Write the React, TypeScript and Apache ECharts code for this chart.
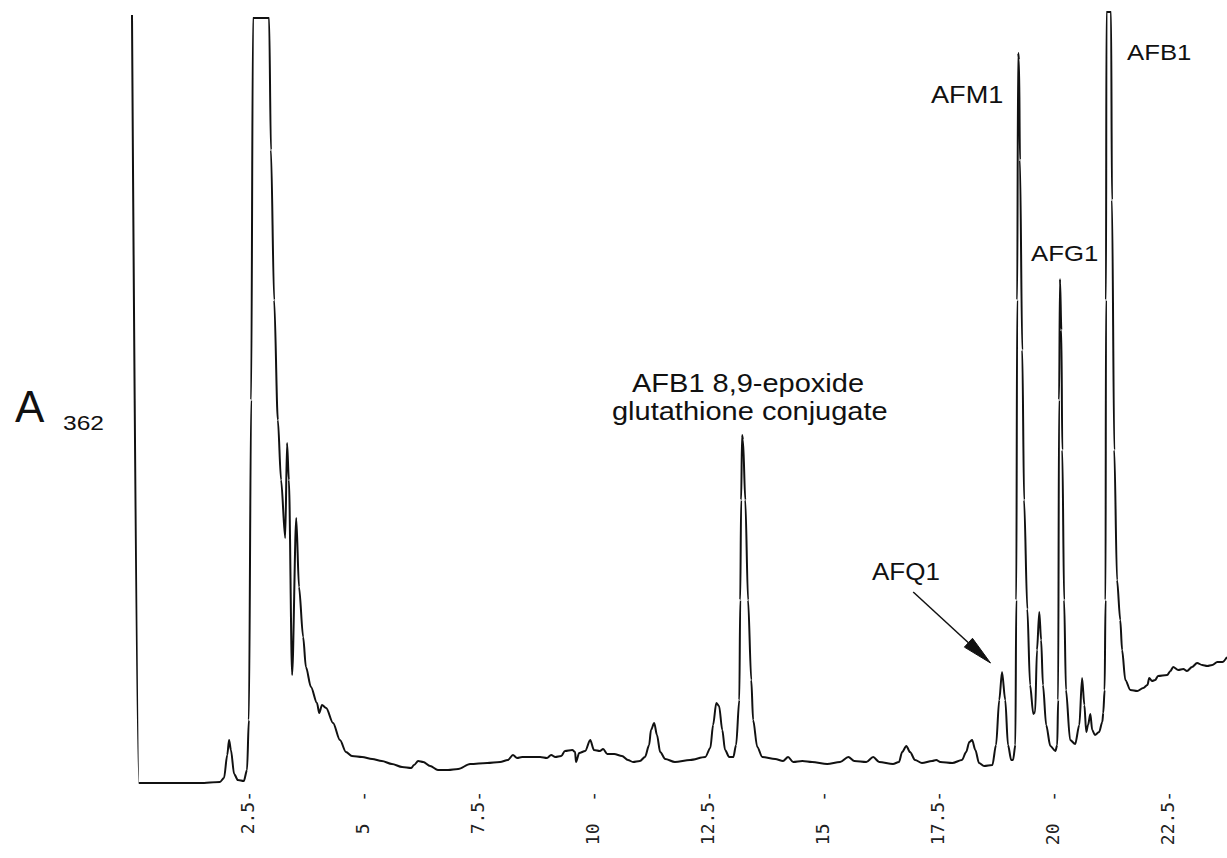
import React, { useEffect, useRef } from "react";
import * as echarts from "echarts";

// Retention time (min)
const retentionTime = [
  0.0, 0.15, 0.61, 1.48, 1.91, 2.0, 2.07, 2.11, 2.15, 2.22, 2.3, 2.43, 2.5, 2.54, 2.59, 2.63, 2.98, 3.02, 3.09, 3.17,
  3.24, 3.33, 3.37, 3.41, 3.48, 3.57, 3.63, 3.72, 3.78, 3.89, 4.02, 4.07, 4.13, 4.22, 4.37, 4.52, 4.65, 4.78, 5.0, 5.22,
  5.43, 5.65, 5.87, 6.07, 6.13, 6.22, 6.33, 6.48, 6.65, 6.87, 7.09, 7.35, 7.72, 8.0, 8.17, 8.28, 8.37, 8.48, 8.87, 9.02,
  9.11, 9.2, 9.33, 9.41, 9.57, 9.63, 9.65, 9.72, 9.85, 9.96, 10.04, 10.17, 10.24, 10.33, 10.48, 10.65, 10.78, 10.89, 11.04, 11.15,
  11.24, 11.28, 11.35, 11.41, 11.48, 11.59, 11.8, 12.13, 12.46, 12.57, 12.63, 12.7, 12.76, 12.83, 12.89, 12.98, 13.07, 13.13, 13.2, 13.22,
  13.24, 13.26, 13.28, 13.33, 13.39, 13.46, 13.5, 13.59, 13.7, 13.98, 14.15, 14.26, 14.37, 14.57, 14.78, 15.11, 15.39, 15.57, 15.7, 15.96,
  16.11, 16.24, 16.54, 16.67, 16.74, 16.83, 16.91, 17.02, 17.17, 17.39, 17.48, 17.57, 17.83, 18.04, 18.13, 18.2, 18.26, 18.33, 18.41, 18.52,
  18.7, 18.78, 18.85, 18.91, 18.98, 19.04, 19.11, 19.15, 19.2, 19.22, 19.24, 19.26, 19.28, 19.3, 19.35, 19.39, 19.46, 19.52, 19.59, 19.63,
  19.67, 19.72, 19.76, 19.8, 19.87, 19.96, 20.07, 20.11, 20.13, 20.15, 20.17, 20.2, 20.22, 20.26, 20.3, 20.39, 20.5, 20.59, 20.65, 20.7,
  20.74, 20.78, 20.83, 20.87, 20.93, 21.02, 21.09, 21.11, 21.14, 21.16, 21.17, 21.18, 21.28, 21.3, 21.35, 21.41, 21.48, 21.52, 21.59, 21.7,
  21.85, 21.98, 22.07, 22.11, 22.17, 22.24, 22.3, 22.5, 22.57, 22.63, 22.74, 22.85, 22.93, 23.04, 23.15, 23.26, 23.37, 23.48, 23.59, 23.7,
  23.8,
];

// Absorbance at 362 nm (relative units)
const absorbance362 = [
  768, 0, 0, 0, 1, 5, 28, 43, 33, 9, 3, 2, 13, 63, 383, 765, 765, 633, 483, 363,
  303, 245, 340, 303, 108, 265, 196, 146, 116, 96, 80, 70, 78, 75, 60, 43, 31, 27, 26, 24,
  22, 19, 16, 15, 18, 22, 21, 17, 13, 13, 14, 19, 20, 21, 23, 28, 25, 26, 26, 25,
  28, 26, 27, 32, 33, 31, 21, 30, 32, 43, 33, 32, 34, 29, 29, 27, 23, 21, 22, 26,
  38, 53, 60, 48, 31, 24, 21, 23, 26, 35, 58, 80, 77, 53, 33, 26, 26, 38, 83, 183,
  283, 348, 343, 283, 183, 103, 63, 36, 26, 24, 22, 26, 21, 22, 21, 19, 21, 26, 22, 21,
  26, 21, 19, 21, 31, 37, 31, 23, 20, 22, 23, 21, 20, 23, 31, 41, 43, 33, 20, 17,
  18, 38, 83, 111, 83, 38, 23, 23, 38, 183, 483, 730, 723, 623, 433, 283, 174, 98, 69, 71,
  133, 171, 143, 98, 58, 37, 32, 38, 83, 383, 504, 453, 333, 183, 93, 43, 39, 58, 105, 78,
  51, 58, 69, 53, 48, 51, 61, 70, 93, 183, 483, 771, 771, 583, 333, 203, 163, 133, 103, 93,
  92, 95, 98, 105, 102, 103, 107, 108, 112, 116, 113, 114, 112, 116, 120, 118, 117, 118, 121, 121,
  126,
];

// Tick labels as printed by the integrator (fixed width, tick dash at the end)
const tickLabels: Record<string, string> = {
  "2.5": "2.5-",
  "5": "5  -",
  "7.5": "7.5-",
  "10": "10  -",
  "12.5": "12.5-",
  "15": "15  -",
  "17.5": "17.5-",
  "20": "20  -",
  "22.5": "22.5-",
};

// Arrow for AFQ1: from [time, absorbance] to [time, absorbance]
const afq1ArrowFrom = [16.98, 191];
const afq1ArrowTo = [18.66, 120];

export default function App() {
  const ref = useRef<HTMLDivElement>(null);

  useEffect(() => {
    if (!ref.current) return;
    const chart = echarts.init(ref.current, undefined, { renderer: "svg" });
    const data = retentionTime.map((t, i) => [t, absorbance362[i]]);
    const sans = "'Liberation Sans', Arial, Helvetica, sans-serif";

    const textEl = (text: string, x: number, y: number, size: number, sx: number) => ({
      type: "text",
      x,
      y,
      scaleX: sx,
      style: {
        text,
        fill: "#111",
        font: `${size}px ${sans}`,
        textAlign: "left",
        textVerticalAlign: "middle",
      },
    });

    const labels = [
      textEl("A", 15, 406, 44, 1.0),
      textEl("362", 63, 423, 21, 1.17),
      textEl("AFB1 8,9-epoxide", 632, 383, 25, 1.16),
      textEl("glutathione conjugate", 612, 411, 25, 1.16),
      textEl("AFQ1", 872, 572, 23, 1.13),
      textEl("AFM1", 931, 95, 23, 1.18),
      textEl("AFG1", 1031, 253, 23, 1.12),
      textEl("AFB1", 1127, 52, 23, 1.12),
    ];

    chart.setOption({
      animation: false,
      backgroundColor: "#ffffff",
      grid: { left: 132, right: 0, top: 10, bottom: 75, containLabel: false },
      xAxis: {
        type: "value",
        min: 0,
        max: 23.8,
        interval: 2.5,
        axisLine: { show: false },
        axisTick: { show: false },
        splitLine: { show: false },
        axisLabel: {
          rotate: 90,
          margin: 8,
          color: "#222",
          fontFamily: "'DejaVu Sans Mono', 'Liberation Mono', monospace",
          fontSize: 18,
          showMaxLabel: false,
          formatter: (v: number) => tickLabels[String(v)] ?? "",
        },
      },
      yAxis: {
        type: "value",
        min: 0,
        max: 773,
        show: false,
      },
      series: [
        {
          type: "line",
          data,
          showSymbol: false,
          symbol: "none",
          smooth: 0.3,
          smoothMonotone: "x",
          lineStyle: { color: "#111", width: 2 },
          clip: true,
        },
      ],
      graphic: labels,
    });

    // Arrow annotation, positioned through the chart's own coordinate system
    const p0 = chart.convertToPixel({ gridIndex: 0 }, afq1ArrowFrom) as number[];
    const p1 = chart.convertToPixel({ gridIndex: 0 }, afq1ArrowTo) as number[];
    const dx = p1[0] - p0[0];
    const dy = p1[1] - p0[1];
    const len = Math.sqrt(dx * dx + dy * dy);
    const ux = dx / len;
    const uy = dy / len;
    const headLen = 30;
    const headHalf = 6;
    const bx = p1[0] - ux * headLen;
    const by = p1[1] - uy * headLen;
    chart.setOption(
      {
        graphic: [
          ...labels,
          {
            type: "line",
            shape: { x1: p0[0], y1: p0[1], x2: bx, y2: by },
            style: { stroke: "#111", lineWidth: 1.5 },
          },
          {
            type: "polygon",
            shape: {
              points: [
                [p1[0], p1[1]],
                [bx - uy * headHalf, by + ux * headHalf],
                [bx + uy * headHalf, by - ux * headHalf],
              ],
            },
            style: { fill: "#111", stroke: "#111", lineWidth: 1 },
          },
        ],
      },
      { replaceMerge: ["graphic"] }
    );

    return () => chart.dispose();
  }, []);

  return (
    <div
      ref={ref}
      style={{ position: "fixed", left: 0, top: 0, width: 1227, height: 858, background: "#fff" }}
    />
  );
}
